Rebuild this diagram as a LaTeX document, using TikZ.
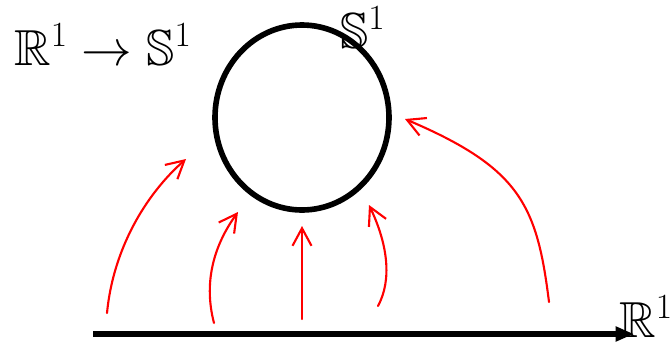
\RequirePackage{fix-cm}
\documentclass[tikz,border=0pt]{standalone}
\usepackage{amssymb}
\usetikzlibrary{arrows.meta}
\tikzset{maparrow/.style={red,line width=1.5pt,-{Straight Barb[length=12.5pt,width=13.5pt]}},
lbl/.style={anchor=base west,inner sep=0pt}}
\begin{document}
\begin{tikzpicture}[font=\fontsize{36}{42}\selectfont, line join=round, line cap=round]
\begin{scope}[x=0.025cm,y=-0.025cm]
\useasboundingbox(0,0)rectangle(671,343);
\node[lbl](map) at (14,65){$\mathbb{R}^1\to\mathbb{S}^1$};
\node[lbl](circlbl) at (340,48){$\mathbb{S}^1$};
\node[lbl](linelbl) at (619,337){$\mathbb{R}^1$};
\draw[line width=4pt](302,117.5)ellipse(87 and 92.5);
\coordinate(l0) at (93,334);
\coordinate(l1) at (634,334);
\draw[line width=4pt,line cap=butt,-{Triangle[length=13pt,width=10pt]}](l0)--(l1);
% images of points of the line
\coordinate(s1) at (107,313); \coordinate(t1) at (186,159);
\coordinate(s2) at (214,323); \coordinate(t2) at (238,212);
\coordinate(s3) at (302,319); \coordinate(t3) at (302,226);
\coordinate(s4) at (378,306); \coordinate(t4) at (369,205);
\coordinate(s5) at (549,302); \coordinate(t5) at (405,119);
\draw[maparrow](s1)..controls(113,250)and(145,195)..(t1);
\draw[maparrow](s2)..controls(204,285)and(212,248)..(t2);
\draw[maparrow](s3)--(t3);
\draw[maparrow](s4)..controls(392,280)and(388,245)..(t4);
\draw[maparrow](s5)..controls(537,205)and(520,168)..(t5);
\end{scope}
\end{tikzpicture}
\end{document}
